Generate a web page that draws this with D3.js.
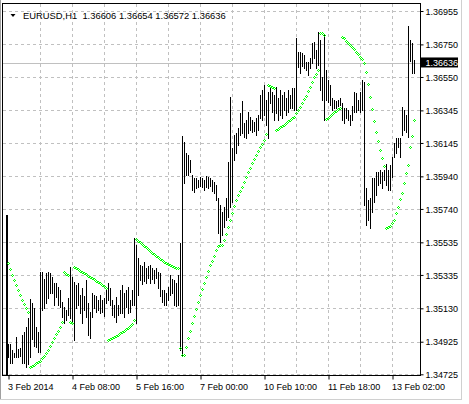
<!DOCTYPE html>
<html>
<head>
<meta charset="utf-8">
<script src="https://cdn.jsdelivr.net/npm/d3@7"></script>
<style>
body { margin: 0; background: #fff; }
svg text { font-family: "Liberation Sans", Arial, sans-serif; font-size: 9px; fill: #000; }
</style>
</head>
<body>
<div id="chart"></div>
<script>
// EURUSD H1 bars, one per hour, oldest first
const highs = [
  1.34910, 1.34910, 1.34874, 1.34855, 1.34953, 1.34880, 1.34886, 1.34966, 1.34984, 1.35015,
  1.35070, 1.35187, 1.35162, 1.35131, 1.35015, 1.34984, 1.35352, 1.35352, 1.35309, 1.35346,
  1.35352, 1.35346, 1.35322, 1.35285, 1.35285, 1.35260, 1.35242, 1.35168, 1.35138, 1.35119,
  1.35193, 1.35383, 1.35322, 1.35291, 1.35273, 1.35285, 1.35211, 1.35254, 1.35205, 1.35303,
  1.35162, 1.35107, 1.35224, 1.35211, 1.35205, 1.35181, 1.35211, 1.35181, 1.35193, 1.35248,
  1.35285, 1.35254, 1.35181, 1.35150, 1.35199, 1.35150, 1.35242, 1.35273, 1.35224, 1.35242,
  1.35260, 1.35181, 1.35242, 1.35561, 1.35518, 1.35438, 1.35395, 1.35389, 1.35414, 1.35377,
  1.35389, 1.35395, 1.35377, 1.35365, 1.35377, 1.35352, 1.35346, 1.35242, 1.35242, 1.35224,
  1.35260, 1.35334, 1.35309, 1.35303, 1.35285, 1.35334, 1.35531, 1.36188, 1.36151, 1.36083,
  1.36071, 1.36040, 1.35948, 1.35930, 1.35930, 1.35917, 1.35936, 1.35930, 1.35917, 1.35942,
  1.35936, 1.35930, 1.35917, 1.35905, 1.35887, 1.35807, 1.35764, 1.35721, 1.35752, 1.35807,
  1.36028, 1.36427, 1.36114, 1.36194, 1.36206, 1.36237, 1.36329, 1.36402, 1.36267, 1.36286,
  1.36335, 1.36304, 1.36286, 1.36273, 1.36298, 1.36316, 1.36439, 1.36470, 1.36501, 1.36409,
  1.36458, 1.36482, 1.36458, 1.36439, 1.36488, 1.36421, 1.36470, 1.36439, 1.36458, 1.36421,
  1.36470, 1.36439, 1.36482, 1.36482, 1.36789, 1.36703, 1.36703, 1.36697, 1.36685, 1.36642,
  1.36642, 1.36666, 1.36759, 1.36765, 1.36716, 1.36826, 1.36777, 1.36550, 1.36814, 1.36593,
  1.36531, 1.36501, 1.36421, 1.36409, 1.36402, 1.36409, 1.36421, 1.36390, 1.36359, 1.36359,
  1.36347, 1.36316, 1.36372, 1.36458, 1.36452, 1.36409, 1.36458, 1.36531, 1.36519, 1.35868,
  1.35795, 1.35807, 1.35930, 1.35930, 1.35966, 1.35966, 1.35979, 1.35966, 1.35979, 1.36016,
  1.35979, 1.36009, 1.36059, 1.36145, 1.36175, 1.36175, 1.36175, 1.36366, 1.36347, 1.36316,
  1.36863, 1.36777, 1.36759, 1.36654
];
const lows = [
  1.34831, 1.34794, 1.34794, 1.34831, 1.34831, 1.34831, 1.34837, 1.34794, 1.34794, 1.34769,
  1.34788, 1.34831, 1.34941, 1.34898, 1.34892, 1.34861, 1.34861, 1.35119, 1.35131, 1.35162,
  1.35193, 1.35224, 1.35224, 1.35150, 1.35199, 1.35150, 1.35138, 1.35076, 1.35039, 1.35058,
  1.35088, 1.35070, 1.35045, 1.34935, 1.35131, 1.35150, 1.35101, 1.35039, 1.35119, 1.35076,
  1.34966, 1.34947, 1.35076, 1.35131, 1.35107, 1.35119, 1.35101, 1.35107, 1.35082, 1.35162,
  1.35181, 1.35150, 1.35088, 1.35076, 1.35045, 1.35088, 1.35101, 1.35101, 1.35076, 1.35138,
  1.35101, 1.35107, 1.35150, 1.35150, 1.35039, 1.35211, 1.35303, 1.35279, 1.35297, 1.35285,
  1.35316, 1.35285, 1.35309, 1.35285, 1.35316, 1.35254, 1.35205, 1.35168, 1.35150, 1.35150,
  1.35181, 1.35211, 1.35224, 1.35150, 1.35144, 1.35150, 1.34874, 1.34843, 1.35899, 1.35948,
  1.35948, 1.35966, 1.35856, 1.35844, 1.35868, 1.35874, 1.35881, 1.35874, 1.35856, 1.35874,
  1.35868, 1.35881, 1.35850, 1.35838, 1.35795, 1.35592, 1.35537, 1.35580, 1.35629, 1.35672,
  1.35690, 1.35752, 1.35782, 1.36040, 1.36083, 1.36132, 1.36194, 1.36206, 1.36181, 1.36175,
  1.36206, 1.36224, 1.36212, 1.36218, 1.36194, 1.36224, 1.36298, 1.36286, 1.36316, 1.36255,
  1.36175, 1.36390, 1.36335, 1.36286, 1.36329, 1.36286, 1.36316, 1.36298, 1.36347, 1.36316,
  1.36335, 1.36359, 1.36359, 1.36347, 1.36347, 1.36611, 1.36574, 1.36617, 1.36605, 1.36593,
  1.36562, 1.36605, 1.36636, 1.36666, 1.36605, 1.36623, 1.36470, 1.36409, 1.36286, 1.36409,
  1.36396, 1.36378, 1.36347, 1.36359, 1.36359, 1.36372, 1.36378, 1.36286, 1.36267, 1.36298,
  1.36286, 1.36255, 1.36286, 1.36335, 1.36335, 1.36347, 1.36335, 1.36347, 1.35764, 1.35641,
  1.35672, 1.35623, 1.35721, 1.35782, 1.35825, 1.35887, 1.35899, 1.35868, 1.35917, 1.35887,
  1.35856, 1.35856, 1.35936, 1.36059, 1.36083, 1.36120, 1.36059, 1.36194, 1.36224, 1.36212,
  1.36181, 1.36648, 1.36574, 1.36572
];
// Parabolic SAR, one value per bar
const sar = [
  1.35408, 1.35371, 1.35334, 1.35303, 1.35273, 1.35242, 1.35211, 1.35181, 1.35156, 1.35131,
  1.35107, 1.34769, 1.34775, 1.34784, 1.34792, 1.34800, 1.34809, 1.34824, 1.34840, 1.34855,
  1.34874, 1.34898, 1.34923, 1.34947, 1.34972, 1.34993, 1.35015, 1.35045, 1.35352, 1.35343,
  1.35334, 1.35045, 1.35039, 1.35383, 1.35377, 1.35369, 1.35362, 1.35354, 1.35346, 1.35338,
  1.35331, 1.35323, 1.35316, 1.35308, 1.35300, 1.35291, 1.35283, 1.35274, 1.35266, 1.35257,
  1.34935, 1.34941, 1.34947, 1.34953, 1.34959, 1.34967, 1.34976, 1.34984, 1.34993, 1.35002,
  1.35012, 1.35021, 1.35033, 1.35061, 1.35555, 1.35544, 1.35535, 1.35524, 1.35514, 1.35504,
  1.35492, 1.35481, 1.35471, 1.35463, 1.35452, 1.35442, 1.35434, 1.35426, 1.35416, 1.35408,
  1.35402, 1.35394, 1.35387, 1.35383, 1.35379, 1.35375, 1.34886, 1.34843, 1.34843, 1.34894,
  1.34945, 1.34990, 1.35039, 1.35082, 1.35128, 1.35170, 1.35211, 1.35251, 1.35288, 1.35325,
  1.35359, 1.35393, 1.35423, 1.35454, 1.35488, 1.35512, 1.35518, 1.35518, 1.35549, 1.35589,
  1.35629, 1.35672, 1.35715, 1.35758, 1.35795, 1.35825, 1.35850, 1.35874, 1.35905, 1.35936,
  1.35966, 1.35994, 1.36022, 1.36049, 1.36074, 1.36098, 1.36120, 1.36141, 1.36163, 1.36200,
  1.36501, 1.36495, 1.36487, 1.36480, 1.36224, 1.36232, 1.36241, 1.36249, 1.36258, 1.36267,
  1.36277, 1.36286, 1.36296, 1.36306, 1.36329, 1.36347, 1.36366, 1.36390, 1.36412, 1.36436,
  1.36464, 1.36491, 1.36519, 1.36547, 1.36571, 1.36593, 1.36823, 1.36817, 1.36805, 1.36290,
  1.36301, 1.36310, 1.36321, 1.36332, 1.36341, 1.36352, 1.36362, 1.36797, 1.36787, 1.36773,
  1.36760, 1.36746, 1.36732, 1.36720, 1.36705, 1.36691, 1.36674, 1.36658, 1.36634, 1.36579,
  1.36505, 1.36429, 1.36351, 1.36280, 1.36210, 1.36155, 1.36102, 1.36050, 1.36005, 1.35621,
  1.35629, 1.35638, 1.35651, 1.35672, 1.35713, 1.35754, 1.35799, 1.35838, 1.35898, 1.35959,
  1.36008, 1.36123, 1.36190, 1.36286
];
const timeTickBars = [0, 32, 64, 96, 128, 160, 192];
const timeLabels = ['3 Feb 2014', '4 Feb 08:00', '5 Feb 16:00', '7 Feb 00:00', '10 Feb 10:00', '11 Feb 18:00', '13 Feb 02:00'];
const priceTicks = [1.36955, 1.36750, 1.36550, 1.36345, 1.36145, 1.35940, 1.35740, 1.35535, 1.35335, 1.35130, 1.34925, 1.34725];
const lastOHLC = [1.36606, 1.36654, 1.36572, 1.36636];
const symbol = 'EURUSD,H1';

const width = 469;
const height = 404;
const plotLeft = 2, plotTop = 3, plotRight = 420, plotBottom = 375;

const svg = d3.select('#chart').append('svg')
  .attr('width', width)
  .attr('height', height)
  .style('display', 'block');

const x = d3.scaleLinear().domain([0, highs.length - 1]).range([8, 8 + 2 * (highs.length - 1)]);
const y = d3.scaleLinear().domain([1.34725, 1.36955]).range([374.3, 11]);

// grid
const grid = svg.append('g').attr('class', 'grid')
  .attr('stroke', '#c0c0c0')
  .attr('stroke-dasharray', '3,3')
  .attr('shape-rendering', 'crispEdges');
grid.selectAll('.h')
  .data(priceTicks)
  .enter().append('line')
  .attr('x1', plotLeft + 1).attr('x2', plotRight)
  .attr('y1', (d) => Math.round(y(d)) + 0.5)
  .attr('y2', (d) => Math.round(y(d)) + 0.5);
grid.selectAll('.v')
  .data(d3.range(16, highs.length, 16))
  .enter().append('line')
  .attr('x1', (d) => x(d) + 0.5).attr('x2', (d) => x(d) + 0.5)
  .attr('y1', plotTop + 1).attr('y2', plotBottom);

// current price line
const close = lastOHLC[3];
svg.append('line')
  .attr('x1', plotLeft + 1).attr('x2', plotRight)
  .attr('y1', Math.round(y(close)) + 0.5).attr('y2', Math.round(y(close)) + 0.5)
  .attr('stroke', '#c0c0c0')
  .attr('shape-rendering', 'crispEdges');

// left history edge
svg.append('line')
  .attr('x1', 7).attr('x2', 7)
  .attr('y1', 215).attr('y2', plotBottom)
  .attr('stroke', '#000')
  .attr('stroke-width', 2)
  .attr('shape-rendering', 'crispEdges');

// bars (high-low)
svg.append('g').attr('class', 'bars')
  .selectAll('line')
  .data(highs)
  .enter().append('line')
  .attr('x1', (d, i) => x(i) + 0.5)
  .attr('x2', (d, i) => x(i) + 0.5)
  .attr('y1', (d) => Math.round(y(d)))
  .attr('y2', (d, i) => Math.round(y(lows[i])) + 1)
  .attr('stroke', '#000')
  .attr('shape-rendering', 'crispEdges');

// parabolic SAR, small lime rings
svg.append('g').attr('class', 'sar')
  .selectAll('path')
  .data(sar)
  .enter().append('path')
  .attr('d', (d, i) => {
    const px = x(i);
    const py = Math.round(y(d));
    return `M${px},${py - 1}h1v1h-1z M${px - 1},${py}h1v1h-1z M${px + 1},${py}h1v1h-1z M${px},${py + 1}h1v1h-1z`;
  })
  .attr('fill', '#00ff00')
  .attr('shape-rendering', 'crispEdges');

// frame
svg.append('line').attr('x1', 0.5).attr('x2', 0.5).attr('y1', 0).attr('y2', 400).attr('stroke', '#a0a0a0');
svg.append('line').attr('x1', plotLeft + 0.5).attr('x2', plotLeft + 0.5).attr('y1', plotTop).attr('y2', plotBottom + 1).attr('stroke', '#000');
svg.append('line').attr('x1', plotLeft).attr('x2', plotRight + 1).attr('y1', plotTop + 0.5).attr('y2', plotTop + 0.5).attr('stroke', '#000');
svg.append('line').attr('x1', 461.5).attr('x2', 461.5).attr('y1', 0).attr('y2', 400).attr('stroke', '#d0d0d0');
svg.append('line').attr('x1', 0).attr('x2', 462).attr('y1', 399.5).attr('y2', 399.5).attr('stroke', '#d0d0d0');

// price axis
const yAxis = d3.axisRight(y)
  .tickValues(priceTicks)
  .tickFormat(d3.format('.5f'))
  .tickSize(3)
  .tickSizeOuter(0);
const gy = svg.append('g')
  .attr('transform', `translate(${plotRight + 0.5},0)`)
  .call(yAxis);
gy.select('.domain').attr('d', `M0,${plotTop}V${plotBottom + 1}`).attr('stroke', '#000');
gy.selectAll('.tick line').attr('stroke', '#000');
gy.selectAll('.tick text')
  .attr('x', 5)
  .attr('dy', '0.35em')
  .style('font-family', '"Liberation Sans", Arial, sans-serif')
  .style('font-size', '9px');

// current price label
const cy = y(close);
svg.append('rect')
  .attr('x', plotRight + 1).attr('y', cy - 5.5)
  .attr('width', 37).attr('height', 10)
  .attr('fill', '#000');
svg.append('text')
  .attr('x', plotRight + 5.5).attr('y', cy)
  .attr('dy', '0.35em')
  .style('fill', '#fff')
  .text(d3.format('.5f')(close));

// time axis
const xAxis = d3.axisBottom(x)
  .tickValues(timeTickBars)
  .tickFormat((d, i) => timeLabels[i])
  .tickSize(4)
  .tickSizeOuter(0);
const gx = svg.append('g')
  .attr('transform', `translate(0.5,${plotBottom + 0.5})`)
  .call(xAxis);
gx.select('.domain').attr('d', `M${plotLeft - 0.5},0H${plotRight}`).attr('stroke', '#000');
gx.selectAll('.tick line').attr('stroke', '#000');
gx.selectAll('.tick text')
  .attr('text-anchor', 'start')
  .attr('x', -1)
  .attr('y', 8)
  .attr('dy', '0.71em')
  .style('font-family', '"Liberation Sans", Arial, sans-serif')
  .style('font-size', '9px');

// title
svg.append('path')
  .attr('d', 'M10.5,14H15.5L13,17Z')
  .attr('fill', '#000');
svg.append('text')
  .attr('x', 23).attr('y', 18.5)
  .style('font-size', '9.4px')
  .attr('xml:space', 'preserve')
  .text(`${symbol}  ${lastOHLC.map(d3.format('.5f')).join(' ')}`);
</script>
</body>
</html>
